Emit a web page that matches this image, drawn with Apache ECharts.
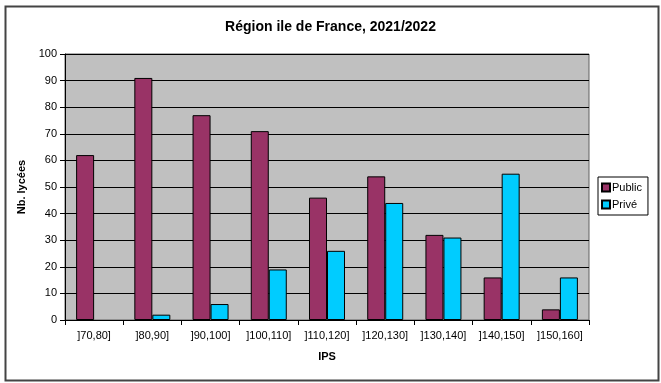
<!DOCTYPE html>
<html><head><meta charset="utf-8">
<script src="https://cdn.jsdelivr.net/npm/echarts@6/dist/echarts.min.js"></script>
<style>html,body{margin:0;padding:0;background:#fff}#c{width:661px;height:383px}</style>
</head><body><div id="c"></div>
<script>
var categories = [']70,80]', ']80,90]', ']90,100]', ']100,110]', ']110,120]', ']120,130]', ']130,140]', ']140,150]', ']150,160]'];
var publicValues = [62, 91, 77, 71, 46, 54, 32, 16, 4];
var priveValues = [null, 2, 6, 19, 26, 44, 31, 55, 16];
var yTicks = [0, 10, 20, 30, 40, 50, 60, 70, 80, 90, 100];

var font = 'Liberation Sans, Arial, sans-serif';
var chart = echarts.init(document.getElementById('c'), null, {renderer: 'canvas'});
chart.setOption({
  animation: false,
  backgroundColor: '#fff',
  title: {
    text: 'Région ile de France, 2021/2022',
    left: 'center', top: 15,
    textStyle: {fontFamily: font, fontSize: 14, fontWeight: 'bold', color: '#000'}
  },
  graphic: [{
    type: 'rect', left: 3, top: 4, z: -1,
    shape: {width: 653, height: 374},
    style: {fill: 'none', stroke: '#444', lineWidth: 2}
  }],
  legend: {
    orient: 'vertical', left: 598, top: 177,
    data: ['Public', 'Privé'],
    itemWidth: 8, itemHeight: 8, itemGap: 6,
    padding: [5, 6, 5, 3],
    borderColor: '#000', borderWidth: 1, backgroundColor: '#fff',
    icon: 'rect',
    textStyle: {fontFamily: font, fontSize: 11, color: '#000', padding: [0, 0, 0, -3]}
  },
  grid: {left: 65, right: 72, top: 54, bottom: 63, show: true, backgroundColor: '#C0C0C0', borderColor: '#606060', borderWidth: 1},
  xAxis: {
    type: 'category', data: categories,
    name: 'IPS', nameLocation: 'middle', nameGap: 31,
    nameTextStyle: {fontFamily: font, fontSize: 11, fontWeight: 'bold', color: '#000'},
    axisLine: {lineStyle: {color: '#000', width: 1}},
    axisTick: {show: true, length: 5, lineStyle: {color: '#000'}},
    axisLabel: {interval: 0, fontFamily: font, fontSize: 11, color: '#000', margin: 10}
  },
  yAxis: {
    type: 'value', min: 0, max: 100, interval: 10,
    name: 'Nb. lycées', nameLocation: 'middle', nameGap: 37,
    nameTextStyle: {fontFamily: font, fontSize: 11, fontWeight: 'bold', color: '#000'},
    axisLine: {show: true, lineStyle: {color: '#000'}},
    axisTick: {show: true, length: 5, lineStyle: {color: '#000'}},
    axisLabel: {fontFamily: font, fontSize: 11, color: '#000', margin: 8,
      formatter: function (v) { return yTicks.indexOf(v) >= 0 ? String(v) : ''; }},
    splitLine: {show: true, lineStyle: {color: '#000', width: 1}}
  },
  series: [
    {name: 'Public', type: 'bar', data: publicValues, barWidth: 18, barGap: '0%',
     itemStyle: {color: '#993366', borderColor: '#000', borderWidth: 1}},
    {name: 'Privé', type: 'bar', data: priveValues, barWidth: 18,
     itemStyle: {color: '#00CCFF', borderColor: '#000', borderWidth: 1}}
  ]
});
</script></body></html>
